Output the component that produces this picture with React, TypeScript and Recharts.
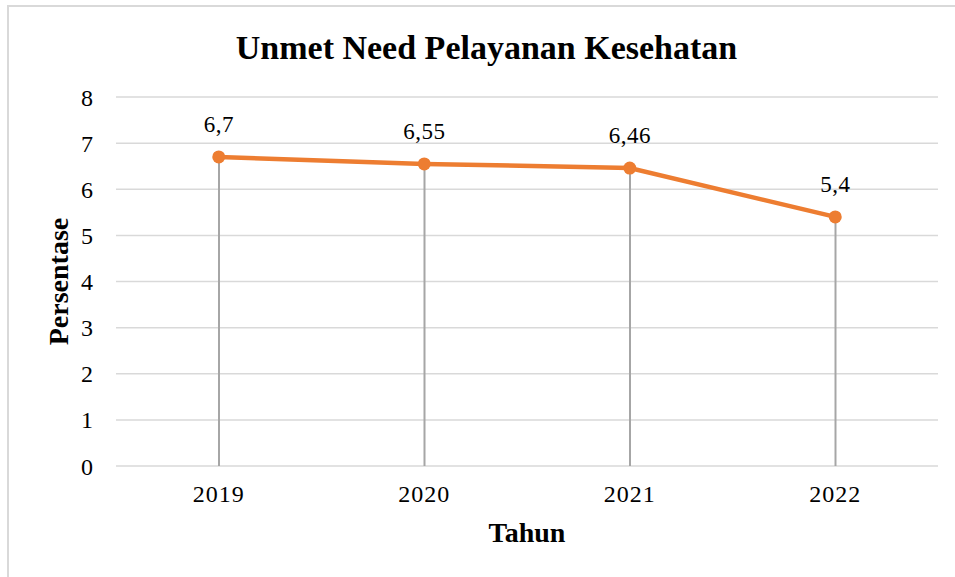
import React from 'react';
import { ComposedChart, Bar, Line, XAxis, YAxis, CartesianGrid, LabelList } from 'recharts';

const years = ['2019', '2020', '2021', '2022'];
const persentase = [6.7, 6.55, 6.46, 5.4];
const yTicks = [0, 1, 2, 3, 4, 5, 6, 7, 8];

const data = years.map((tahun, i) => ({ tahun, nilai: persentase[i] }));

const serif = '"Liberation Serif", "DejaVu Serif", serif';
const fmt = (v: any) => String(v).replace('.', ',');

export default function App() {
  return (
    <div style={{ position: 'absolute', left: 0, top: 0, width: 955, height: 577, overflow: 'hidden', background: '#fff' }}>
      <div
        style={{
          position: 'absolute',
          left: 7,
          top: 5,
          width: 970,
          height: 600,
          border: '2px solid #d9d9d9',
          boxSizing: 'border-box',
        }}
      />
      <div
        style={{
          position: 'absolute',
          left: 0,
          top: 31,
          width: 973,
          textAlign: 'center',
          fontFamily: serif,
          fontWeight: 'bold',
          fontSize: 34,
          lineHeight: '34px',
          color: '#000',
        }}
      >
        Unmet Need Pelayanan Kesehatan
      </div>
      <div style={{ position: 'absolute', left: 0, top: 0 }}>
        <ComposedChart width={955} height={577} data={data} margin={{ top: 97, right: 17, bottom: 31, left: 36 }}>
          <CartesianGrid vertical={false} stroke="#d9d9d9" strokeWidth={1.5} />
          <XAxis
            dataKey="tahun"
            axisLine={false}
            tickLine={false}
            tickSize={0}
            tickMargin={19}
            height={80}
            tick={{ fill: '#000', fontSize: 24, fontFamily: serif, letterSpacing: 1 }}
            label={{ value: 'Tahun', position: 'insideBottom', offset: 4, fill: '#000', fontSize: 28, fontWeight: 'bold', fontFamily: serif }}
          />
          <YAxis
            domain={[0, 8]}
            ticks={yTicks}
            axisLine={false}
            tickLine={false}
            tickSize={0}
            tickMargin={23}
            width={80}
            tick={{ fill: '#000', fontSize: 24, fontFamily: serif }}
            label={{
              value: 'Persentase',
              angle: -90,
              position: 'insideLeft',
              offset: 22,
              fill: '#000',
              fontSize: 28,
              fontWeight: 'bold',
              fontFamily: serif,
              style: { textAnchor: 'middle' },
            }}
          />
          <Bar dataKey="nilai" barSize={2} fill="#a6a6a6" isAnimationActive={false} />
          <Line
            type="linear"
            dataKey="nilai"
            stroke="#ed7d31"
            strokeWidth={4.5}
            dot={{ r: 6.5, fill: '#ed7d31', stroke: 'none' }}
            activeDot={false}
            isAnimationActive={false}
          >
            <LabelList dataKey="nilai" position="top" offset={25} formatter={fmt} fill="#000" fontSize={23} fontFamily={serif} letterSpacing={0.5} />
          </Line>
        </ComposedChart>
      </div>
    </div>
  );
}
